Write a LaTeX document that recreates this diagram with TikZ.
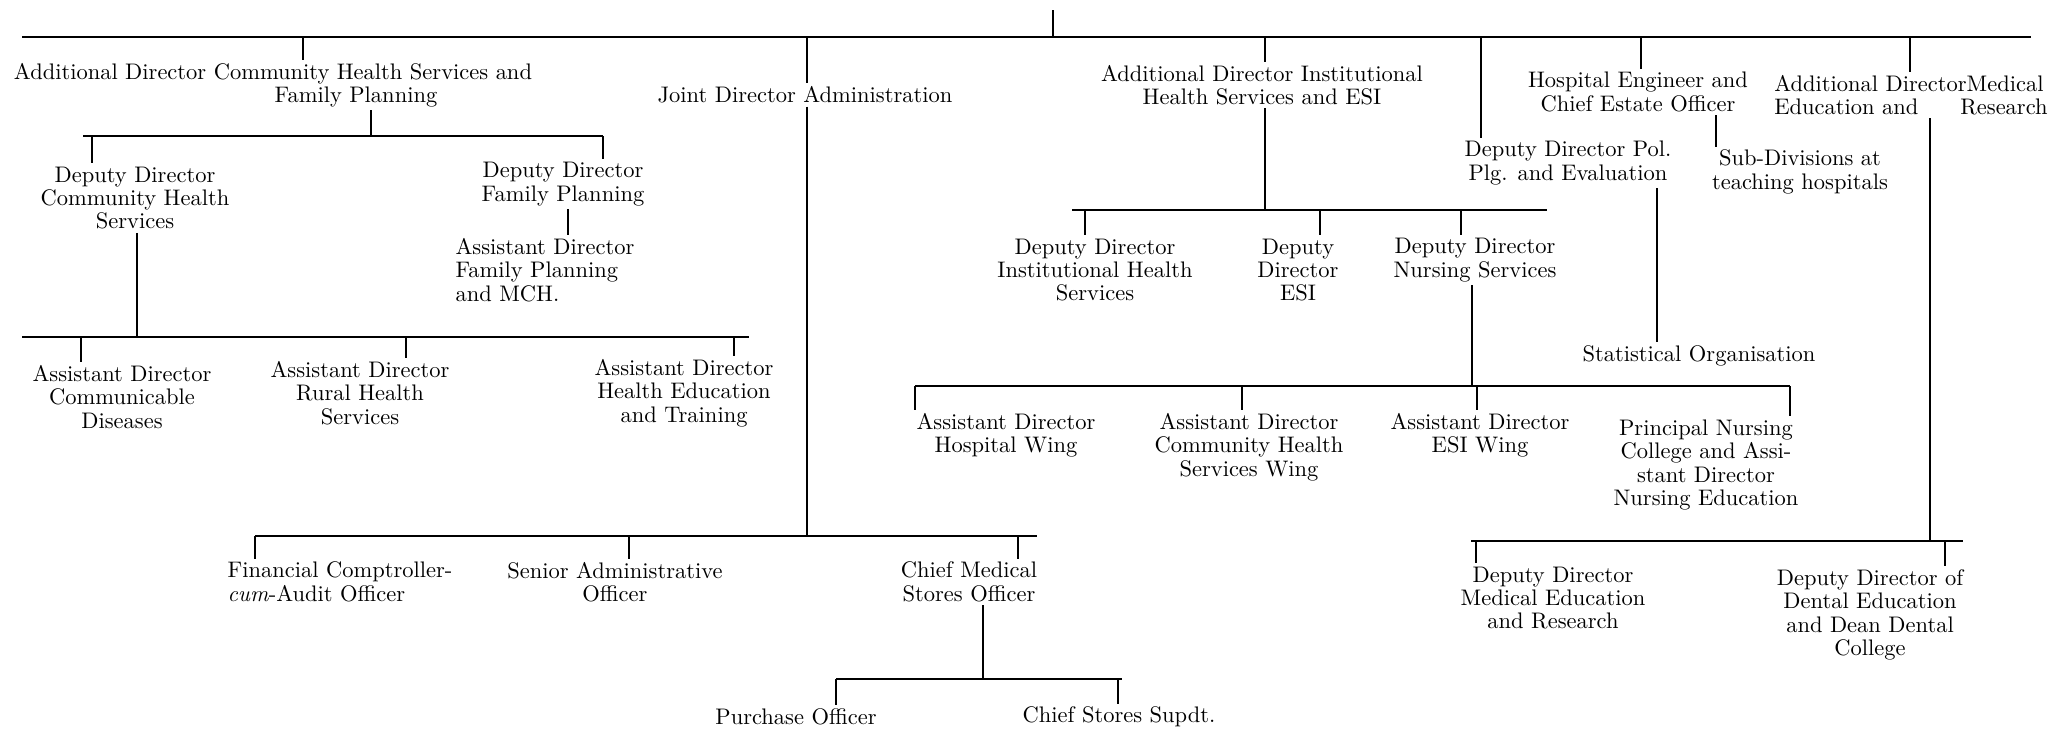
\documentclass[tikz,border=0pt]{standalone}
\usepackage{tikz}
\usetikzlibrary{positioning}

\tikzset{
  office/.style={align=center, inner sep=1pt, font=\fontsize{9.6}{10}\selectfont}
}

\begin{document}
\begin{tikzpicture}[x=0.015cm, y=-0.015cm, line width=0.9pt]
  \useasboundingbox (0,0) rectangle (2072,733);

  % top bus
  \coordinate (top) at (1053,10);
  \coordinate (b0w) at (22,37);
  \coordinate (b0e) at (2031,37);
  \draw (b0w) -- (b0e);
  \draw (top) -- (top |- b0w);

  % first row
  \node[office] (adchs) at (273,85) {Additional Director Community Health Services and\\\hspace*{2.49cm}Family Planning};
  \node[office] (jda) at (805,95) {Joint Director Administration};
  \node[office] (adihs) at (1262,85) {Additional Director Institutional\\Health Services and ESI};
  \node[office] (hecso) at (1638,92) {Hospital Engineer and\\Chief Estate Officer};
  \node[office, text width=4.1cm, align=left] (admer) at (1911,95) {Additional DirectorMedical\\Education and\hfill Research};
  \node[office] (ddpol) at (1568,163) {Deputy Director Pol.\\Plg. and Evaluation};
  \node[office] (sdth) at (1800,172) {Sub-Divisions at\\teaching hospitals};
  \node[office] (stat) at (1699,356) {Statistical Organisation};

  \draw (b0w -| 303,0) -- (adchs.north -| 303,0);
  \draw (b0w -| 807,0) -- (jda.north -| 807,0);
  \draw (b0w -| 1265,0) -- (adihs.north -| 1265,0);
  \draw (b0w -| 1481,0) -- (ddpol.north -| 1481,0);
  \draw (b0w -| 1641,0) -- (hecso.north -| 1641,0);
  \draw (b0w -| 1910,0) -- (admer.north -| 1910,0);
  \draw (ddpol.south -| 1657,0) -- (stat.north -| 1657,0);
  \draw (hecso.south -| 1716,0) -- (sdth.north -| 1716,0);

  % community health and family planning
  \node[office] (ddchs) at (135,198) {Deputy Director\\Community Health\\Services};
  \node[office] (ddfp) at (563,184) {Deputy Director\\Family Planning};
  \node[office, align=left] (adfp) at (545,270) {Assistant Director\\Family Planning\\and MCH.};
  \coordinate (b1w) at (83,136);
  \coordinate (b1e) at (603,136);
  \draw (b1w) -- (b1e);
  \draw (adchs.south -| 371,0) -- (b1w -| 371,0);
  \draw (b1w -| 92,0) -- (ddchs.north -| 92,0);
  \draw (b1e) -- (ddfp.north -| b1e);
  \draw (ddfp.south -| 568,0) -- (adfp.north -| 568,0);

  \node[office] (adcd) at (122,397) {Assistant Director\\Communicable\\Diseases};
  \node[office] (adrhs) at (360,393) {Assistant Director\\Rural Health\\Services};
  \node[office] (adhet) at (684,393) {Assistant Director\\Health Education\\and Training};
  \coordinate (b2w) at (22,337);
  \coordinate (b2e) at (749,337);
  \draw (b2w) -- (b2e);
  \draw (ddchs.south -| 137,0) -- (b2w -| 137,0);
  \draw (b2w -| 81,0) -- (adcd.north -| 81,0);
  \draw (b2w -| 406,0) -- (adrhs.north -| 406,0);
  \draw (b2w -| 734,0) -- (adhet.north -| 734,0);

  % administration
  \node[office, align=left] (fcao) at (340,582) {Financial Comptroller-\\\emph{cum}-Audit Officer};
  \node[office] (sao) at (615,582) {Senior Administrative\\Officer};
  \node[office] (cmso) at (969,582) {Chief Medical\\Stores Officer};
  \coordinate (b3w) at (255,536);
  \coordinate (b3e) at (1037,536);
  \draw (b3w) -- (b3e);
  \draw (jda.south -| 807,0) -- (b3w -| 807,0);
  \draw (b3w) -- (fcao.north -| b3w);
  \draw (b3w -| 629,0) -- (sao.north -| 629,0);
  \draw (b3w -| 1018,0) -- (cmso.north -| 1018,0);

  \node[office] (po) at (796,717) {Purchase Officer};
  \node[office] (css) at (1119,717) {Chief Stores Supdt.};
  \coordinate (b4w) at (836,679);
  \coordinate (b4e) at (1122,679);
  \draw (b4w) -- (b4e);
  \draw (cmso.south -| 983,0) -- (b4w -| 983,0);
  \draw (b4w) -- (po.north -| b4w);
  \draw (b4w -| 1118,0) -- (css.north -| 1118,0);

  % institutional health services
  \node[office] (ddihs) at (1095,270) {Deputy Director\\Institutional Health\\Services};
  \node[office] (ddesi) at (1298,270) {Deputy\\Director\\ESI};
  \node[office] (ddns) at (1475,260) {Deputy Director\\Nursing Services};
  \coordinate (b5w) at (1072,210);
  \coordinate (b5e) at (1547,210);
  \draw (b5w) -- (b5e);
  \draw (adihs.south -| 1265,0) -- (b5w -| 1265,0);
  \draw (b5w -| 1085,0) -- (ddihs.north -| 1085,0);
  \draw (b5w -| 1320,0) -- (ddesi.north -| 1320,0);
  \draw (b5w -| 1461,0) -- (ddns.north -| 1461,0);

  \node[office] (adhw) at (1006,435) {Assistant Director\\Hospital Wing};
  \node[office] (adchw) at (1249,447) {Assistant Director\\Community Health\\Services Wing};
  \node[office] (adesi) at (1480,435) {Assistant Director\\ESI Wing};
  \node[office] (pnc) at (1706,465) {Principal Nursing\\College and Assi-\\stant Director\\Nursing Education};
  \coordinate (b6w) at (915,386);
  \coordinate (b6e) at (1790,386);
  \draw (b6w) -- (b6e);
  \draw (ddns.south -| 1472,0) -- (b6w -| 1472,0);
  \draw (b6w) -- (adhw.north -| b6w);
  \draw (b6w -| 1242,0) -- (adchw.north -| 1242,0);
  \draw (b6w -| 1477,0) -- (adesi.north -| 1477,0);
  \draw (b6e) -- (pnc.north -| b6e);

  % medical education
  \node[office] (ddmer) at (1553,598) {Deputy Director\\Medical Education\\and Research};
  \node[office] (dddec) at (1870,615) {Deputy Director of\\Dental Education\\and Dean Dental\\College};
  \coordinate (b7w) at (1471,541);
  \coordinate (b7e) at (1963,541);
  \draw (b7w) -- (b7e);
  \draw (admer.south -| 1930,0) -- (b7w -| 1930,0);
  \draw (b7w -| 1476,0) -- (ddmer.north -| 1476,0);
  \draw (b7w -| 1945,0) -- (dddec.north -| 1945,0);
\end{tikzpicture}
\end{document}
